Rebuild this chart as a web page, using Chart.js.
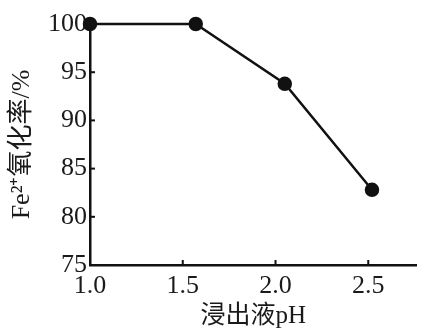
<!DOCTYPE html>
<html><head><meta charset="utf-8">
<script src="https://cdn.jsdelivr.net/npm/chart.js@4"></script>
<style>html,body{margin:0;padding:0;background:#fff}#wrap{width:425px;height:331px}</style>
</head><body><div id="wrap"><canvas id="c"></canvas></div>
<script>
const phValues = [1.0, 1.57, 2.05, 2.52];
const oxidationRate = [100, 100, 93.8, 82.8];
const xTicks = [1.0, 1.5, 2.0, 2.5];
const yTicks = [75, 80, 85, 90, 95, 100];
const xTitle = '浸出液pH';
const yTitle = 'Fe²⁺氧化率/%';

const inwardTicks = {
  id: 'inwardTicks',
  afterDatasetsDraw(chart) {
    const {ctx, chartArea, scales} = chart;
    ctx.save();
    ctx.strokeStyle = '#111';
    ctx.lineWidth = 2;
    xTicks.forEach(v => {
      const px = scales.x.getPixelForValue(v);
      ctx.beginPath(); ctx.moveTo(px, chartArea.bottom); ctx.lineTo(px, chartArea.bottom - 5); ctx.stroke();
    });
    yTicks.forEach(v => {
      const py = scales.y.getPixelForValue(v);
      ctx.beginPath(); ctx.moveTo(chartArea.left, py); ctx.lineTo(chartArea.left + 5, py); ctx.stroke();
    });
    ctx.restore();
  }
};

new Chart(document.getElementById('c'), {
  type: 'line',
  data: {
    datasets: [{
      data: phValues.map((x, i) => ({x, y: oxidationRate[i]})),
      borderColor: '#111',
      backgroundColor: '#111',
      borderWidth: 2.5,
      pointRadius: 6,
      pointBackgroundColor: '#111',
      pointBorderColor: '#111',
      tension: 0,
      clip: false
    }]
  },
  options: {
    responsive: true,
    maintainAspectRatio: false,
    animation: false,
    layout: {padding: {top: 24, right: 2, left: 0, bottom: 0}},
    plugins: {legend: {display: false}, tooltip: {enabled: false}},
    scales: {
      x: {
        type: 'linear',
        min: 1.0, max: 2.76,
        afterBuildTicks: s => { s.ticks = xTicks.map(v => ({value: v})); },
        afterFit: s => { s.height = 66; },
        border: {color: '#111', width: 2.5},
        grid: {display: false, drawTicks: false},
        ticks: {
          color: '#1a1a1a', padding: 6,
          font: {family: 'Liberation Serif', size: 26},
          callback: v => Number(v).toFixed(1),
          maxRotation: 0
        },
        title: {
          display: true, text: xTitle, color: '#1a1a1a', padding: {top: 0, bottom: 0},
          font: {family: "'Liberation Serif','Noto Sans CJK SC'", size: 25}
        }
      },
      y: {
        type: 'linear',
        min: 75, max: 100,
        afterBuildTicks: s => { s.ticks = yTicks.map(v => ({value: v})); },
        afterFit: s => { s.width = 90; },
        border: {color: '#111', width: 2.5},
        grid: {display: false, drawTicks: false},
        ticks: {
          color: '#1a1a1a', padding: 3,
          font: {family: 'Liberation Serif', size: 26}
        },
        title: {
          display: true, text: yTitle, color: '#1a1a1a', padding: {top: 7, bottom: 0},
          font: {family: "'Liberation Serif','Noto Sans CJK SC'", size: 26}
        }
      }
    }
  },
  plugins: [inwardTicks]
});
</script></body></html>
